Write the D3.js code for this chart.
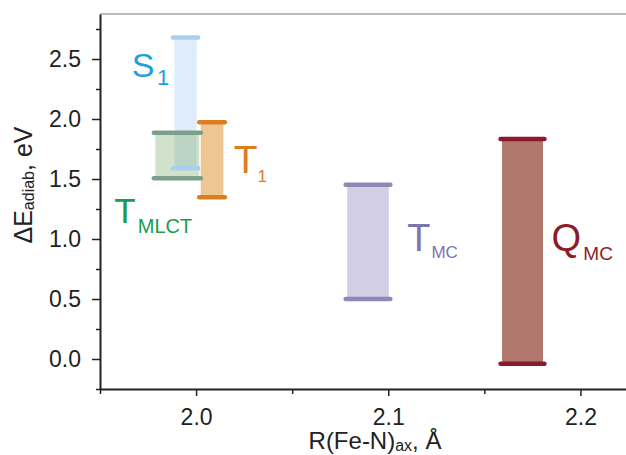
<!DOCTYPE html>
<html>
<head>
<meta charset="utf-8">
<script src="https://cdn.jsdelivr.net/npm/d3@7"></script>
<style>
  html, body { margin: 0; padding: 0; background: #fff; }
  svg { display: block; font-family: "Liberation Sans", Arial, Helvetica, sans-serif; }
</style>
</head>
<body>
<svg id="chart" width="626" height="455"></svg>
<script>
// ---- data ----
const categories = ["S1", "TMLCT", "T1", "TMC", "QMC"];
const labelMain  = ["S", "T", "T", "T", "Q"];
const labelSub   = ["1", "MLCT", "1", "MC", "MC"];
const rLow  = [1.9887, 1.9788, 2.0024, 2.0786, 2.1592];   // R(Fe-N)ax range, Å
const rHigh = [2.0003, 2.0017, 2.0142, 2.1003, 2.1805];
const eLow  = [1.59, 1.506, 1.347, 0.50, -0.04];           // ΔE adiab range, eV
const eHigh = [2.68, 1.886, 1.972, 1.453, 1.833];
const yTicks = [0.0, 0.5, 1.0, 1.5, 2.0, 2.5];
const yMinorTicks = [-0.25, 0.25, 0.75, 1.25, 1.75, 2.25, 2.75];
const xTicks = [2.0, 2.1, 2.2];
const xMinorTicks = [1.95, 2.05, 2.15];

// ---- styles ----
const capColor   = ["#a9d1ef", "#7c9f8c", "#d97f22", "#8e88b7", "#8a1b2a"];
const fillColor  = ["rgba(127,184,230,0.26)", "rgba(106,154,79,0.30)", "#edc692", "#d1cee5", "#b1776c"];
const textColor  = ["#1ea0de", "#1e9a4a", "#dc7d1e", "#7d74b2", "#8c1d25"];
// label placement relative to bar geometry (px)
const labelStyle = [
  {ref: "left",  dx: -42.5, refY: "top",    dy: 39.5, size: 34, subSize: 22, gap: 2.4, subDy: 8},
  {ref: "left",  dx: -41,   refY: "bottom", dy: 45,   size: 35, subSize: 20, gap: 2,   subDy: 9.4},
  {ref: "right", dx: 10.4,  refY: "top",    dy: 51,   size: 39, subSize: 17, gap: 0,   subDy: 8.4},
  {ref: "right", dx: 18.4,  refY: "top",    dy: 66,   size: 38, subSize: 17, gap: 1,   subDy: 7.6},
  {ref: "right", dx: 8.5,   refY: "top",    dy: 111.5,size: 38, subSize: 19, gap: 2.3, subDy: 9.5}
];

const svg = d3.select("#chart");
const x = d3.scaleLinear().domain([1.95, 2.2237]).range([100, 626]);
const y = d3.scaleLinear().domain([-0.25, 2.875]).range([389, 14]);

// top frame line
svg.append("line")
  .attr("x1", 100).attr("x2", 626).attr("y1", 14).attr("y2", 14)
  .attr("stroke", "#a6a6a6").attr("stroke-width", 1.5);

// bars: fills first
const idx = d3.range(categories.length);
svg.append("g").selectAll("rect").data(idx).join("rect")
  .attr("x", i => x(rLow[i]))
  .attr("width", i => x(rHigh[i]) - x(rLow[i]))
  .attr("y", i => y(eHigh[i]))
  .attr("height", i => y(eLow[i]) - y(eHigh[i]))
  .attr("fill", i => fillColor[i]);

// caps
const caps = svg.append("g");
idx.forEach(i => {
  [eLow[i], eHigh[i]].forEach(v => {
    caps.append("line")
      .attr("x1", x(rLow[i]) - 1.5).attr("x2", x(rHigh[i]) + 1.5)
      .attr("y1", y(v)).attr("y2", y(v))
      .attr("stroke", capColor[i]).attr("stroke-width", 4.5)
      .attr("stroke-linecap", "round");
  });
});

// labels
idx.forEach(i => {
  const s = labelStyle[i];
  const bx = (s.ref === "left" ? x(rLow[i]) : x(rHigh[i])) + s.dx;
  const by = (s.refY === "top" ? y(eHigh[i]) : y(eLow[i])) + s.dy;
  const t = svg.append("text").attr("x", bx).attr("y", by).attr("fill", textColor[i]);
  t.append("tspan").attr("font-size", s.size).text(labelMain[i]);
  t.append("tspan").attr("font-size", s.subSize).attr("dx", s.gap).attr("dy", s.subDy).text(labelSub[i]);
});

// axes
const axisColor = "#222";
const yAxis = svg.append("g").attr("transform", "translate(100,0)")
  .call(d3.axisLeft(y).tickValues(yTicks).tickFormat(d3.format(".1f")).tickSize(8).tickSizeOuter(0).tickPadding(11));
const yMinor = svg.append("g").attr("transform", "translate(100,0)")
  .call(d3.axisLeft(y).tickValues(yMinorTicks).tickFormat("").tickSize(4).tickSizeOuter(0));
yMinor.select(".domain").remove();

const xAxis = svg.append("g").attr("transform", "translate(0,389)")
  .call(d3.axisBottom(x).tickValues(xTicks).tickFormat(d3.format(".1f")).tickSize(7).tickSizeOuter(0).tickPadding(13));
const xMinor = svg.append("g").attr("transform", "translate(0,389)")
  .call(d3.axisBottom(x).tickValues(xMinorTicks).tickFormat("").tickSize(5).tickSizeOuter(0));
xMinor.select(".domain").remove();

[yAxis, yMinor, xAxis, xMinor].forEach(g => {
  g.selectAll(".domain").attr("stroke", axisColor).attr("stroke-width", 2);
  g.selectAll(".tick line").attr("stroke", axisColor).attr("stroke-width", 1.5);
  g.selectAll(".tick text").attr("fill", "#222").attr("font-size", 23)
    .attr("font-family", "'Liberation Sans', Arial, Helvetica, sans-serif");
});

// axis titles
const yt = svg.append("text")
  .attr("transform", "translate(32,185) rotate(-90)")
  .attr("text-anchor", "middle").attr("fill", "#222");
yt.append("tspan").attr("font-size", 25).text("ΔE");
yt.append("tspan").attr("font-size", 16).attr("dy", 2).text("adiab");
yt.append("tspan").attr("font-size", 25).attr("dy", -2).text(", eV");

const xt = svg.append("text")
  .attr("x", 375).attr("y", 449)
  .attr("text-anchor", "middle").attr("fill", "#222");
xt.append("tspan").attr("font-size", 24).text("R(Fe-N)");
xt.append("tspan").attr("font-size", 16).attr("dy", 2).text("ax");
xt.append("tspan").attr("font-size", 24).attr("dy", -2).text(", Å");
</script>
</body>
</html>
